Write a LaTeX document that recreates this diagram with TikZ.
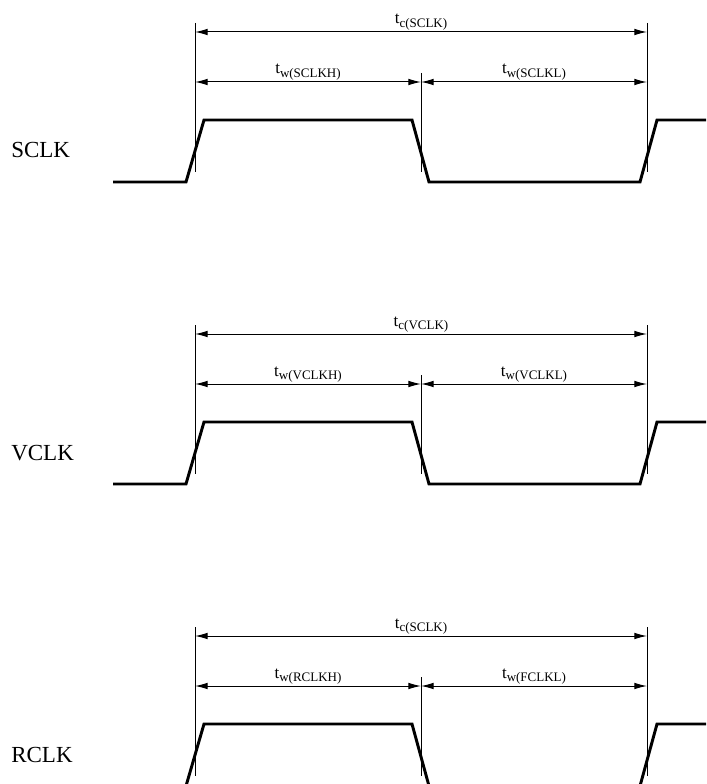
\documentclass[tikz,border=0pt]{standalone}
\usepackage{fontspec}
\setmainfont{Liberation Serif}
\usetikzlibrary{arrows.meta}
\newcommand{\tsub}[1]{t\raisebox{-2.6pt}{\fontsize{9.75}{11}\selectfont #1}}
\begin{document}
\begin{tikzpicture}[x=0.75pt,y=-0.75pt,
  wave/.style={line width=2.2pt, line join=miter},
  guide/.style={line width=0.75pt},
  dim/.style={line width=0.75pt,{Latex[length=9.5pt,width=5pt]}-{Latex[length=9.5pt,width=5pt]}},
  siglabel/.style={anchor=base west, inner sep=0pt, font=\fontsize{17.25}{20}\selectfont},
  tlabel/.style={anchor=base, inner sep=0pt, font=\fontsize{12.75}{15}\selectfont}]
\clip (0,0) rectangle (706,784);
\foreach \d/\n/\tc/\th/\tl in {0/SCLK/c(SCLK)/w(SCLKH)/w(SCLKL),302/VCLK/c(VCLK)/w(VCLKH)/w(VCLKL),604/RCLK/c(SCLK)/w(RCLKH)/w(FCLKL)}{
  % guide lines
  \coordinate (lt-\n) at (195,\d+23);
  \coordinate (lb-\n) at (195,\d+172);
  \coordinate (mt-\n) at (421,\d+73);
  \coordinate (mb-\n) at (421,\d+172);
  \coordinate (rt-\n) at (647,\d+23);
  \coordinate (rb-\n) at (647,\d+172);
  \draw[guide] (lt-\n) -- (lb-\n);
  \draw[guide] (mt-\n) -- (mb-\n);
  \draw[guide] (rt-\n) -- (rb-\n);
  % dimension arrows
  \coordinate (c1-\n) at (195,\d+32);
  \coordinate (c2-\n) at (647,\d+32);
  \coordinate (h1-\n) at (195,\d+82);
  \coordinate (h2-\n) at (421,\d+82);
  \coordinate (l2-\n) at (647,\d+82);
  \draw[dim] (c1-\n) -- (c2-\n);
  \draw[dim] (h1-\n) -- (h2-\n);
  \draw[dim] (h2-\n) -- (l2-\n);
  \node[tlabel] (tc-\n) at (421,\d+24) {\tsub{\tc}};
  \node[tlabel] (th-\n) at (308,\d+74) {\tsub{\th}};
  \node[tlabel] (tl-\n) at (534,\d+74) {\tsub{\tl}};
  % waveform
  \draw[wave] (113,\d+182) -- (186,\d+182) -- (204,\d+120) -- (412,\d+120)
     -- (429,\d+182) -- (640,\d+182) -- (657,\d+120) -- (712,\d+120);
  \node[siglabel] (sig-\n) at (11,\d+158) {\n};
}
\end{tikzpicture}
\end{document}
